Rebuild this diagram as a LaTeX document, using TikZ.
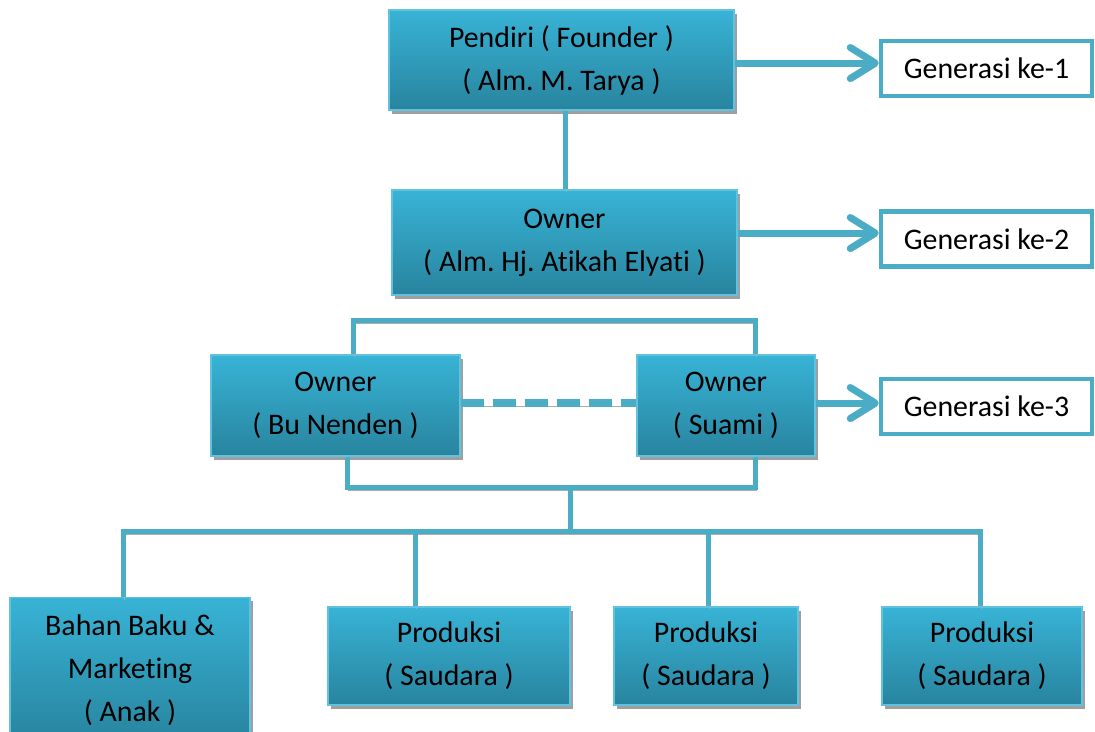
\documentclass[tikz,border=0pt]{standalone}
\usepackage{fontspec}
\setmainfont{Carlito}[RawFeature=-liga]
\usepackage{tikz}
\usetikzlibrary{arrows.meta}
\usetikzlibrary{shadows}
\definecolor{aqua}{RGB}{75,172,198}
\definecolor{aquatop}{RGB}{56,179,214}
\definecolor{aquabot}{RGB}{40,132,158}
\frenchspacing

\begin{document}
\begin{tikzpicture}[x=0.02cm, y=-0.02cm,
  every node/.style={font=\fontsize{17}{24.5}\selectfont, align=center, inner sep=0pt},
  orgbox/.style={draw=aquatop!80!white, line width=0.6pt, top color=aquatop, bottom color=aquabot,
    drop shadow={shadow xshift=0.05cm, shadow yshift=-0.07cm, fill=gray!75, opacity=1}},
  genbox/.style={draw=aqua, line width=0.09cm, fill=white},
  link/.style={draw=aqua, line width=0.1cm,
    preaction={draw=gray!65, transform canvas={xshift=0.03cm, yshift=-0.06cm}}},
  genarrow/.style={link, line width=0.14cm, -{Straight Barb[length=0.5cm, width=0.62cm, round]}}]
\useasboundingbox (0,0) rectangle (1095,731);
% boxes
\node [orgbox, minimum width=345*0.02cm, minimum height=100*0.02cm] (founder) at (561.5,60) {Pendiri ( Founder )\\( Alm. M. Tarya )};
\node [orgbox, minimum width=345*0.02cm, minimum height=105*0.02cm] (owner) at (564.5,242.5) {Owner\\( Alm. Hj. Atikah Elyati )};
\node [orgbox, minimum width=249*0.02cm, minimum height=101*0.02cm] (nenden) at (335.5,405.5) {Owner\\( Bu Nenden )};
\node [orgbox, minimum width=178*0.02cm, minimum height=101*0.02cm] (suami) at (726,405.5) {Owner\\( Suami )};
\node [orgbox, minimum width=240*0.02cm, minimum height=145*0.02cm] (bahan) at (130,670) {Bahan Baku \&\\Marketing\\( Anak )};
\node [orgbox, minimum width=242*0.02cm, minimum height=98*0.02cm] (prod1) at (449,656) {Produksi\\( Saudara )};
\node [orgbox, minimum width=184*0.02cm, minimum height=98*0.02cm] (prod2) at (706,656) {Produksi\\( Saudara )};
\node [orgbox, minimum width=200*0.02cm, minimum height=98*0.02cm] (prod3) at (982,656) {Produksi\\( Saudara )};
\node [genbox, minimum width=211*0.02cm, minimum height=55*0.02cm] (gen1) at (986.5,68.5) {Generasi ke-1};
\node [genbox, minimum width=211*0.02cm, minimum height=55*0.02cm] (gen2) at (986.5,239) {Generasi ke-2};
\node [genbox, minimum width=211*0.02cm, minimum height=55*0.02cm] (gen3) at (986.5,406.5) {Generasi ke-3};
% connectors
\coordinate (tl) at (353,320);
\coordinate (tr) at (755,320);
\coordinate (bl) at (347,487);
\coordinate (br) at (755,487);
\coordinate (trunk) at (570,487);
\coordinate (bus) at (570,531);
\coordinate (busl) at (123,531);
\coordinate (busr) at (980,531);
\coordinate (d2) at (415,531);
\coordinate (d3) at (708,531);
\draw [link] (owner.north -| 565,0) -- (founder.south -| 565,0);
\draw [link] (tl |- nenden.north) -- (tl) -- (tr) -- (tr |- suami.north);
\draw [link] (bl |- nenden.south) -- (bl) -- (br) -- (br |- suami.south);
\draw [link] (trunk) -- (bus);
\draw [link] (busl |- bahan.north) -- (busl) -- (busr) -- (busr |- prod3.north);
\draw [link] (d2) -- (d2 |- prod1.north);
\draw [link] (d3) -- (d3 |- prod2.north);
\draw [link, line width=0.16cm, dash pattern=on 0.46cm off 0.18cm] (nenden.east |- 0,403) -- (suami.west |- 0,403);
\draw [genarrow] (founder.east |- 0,63) -- (gen1.west |- 0,63);
\draw [genarrow] (owner.east |- 0,233) -- (gen2.west |- 0,233);
\draw [genarrow] (suami.east |- 0,403) -- (gen3.west |- 0,403);
\end{tikzpicture}
\end{document}
